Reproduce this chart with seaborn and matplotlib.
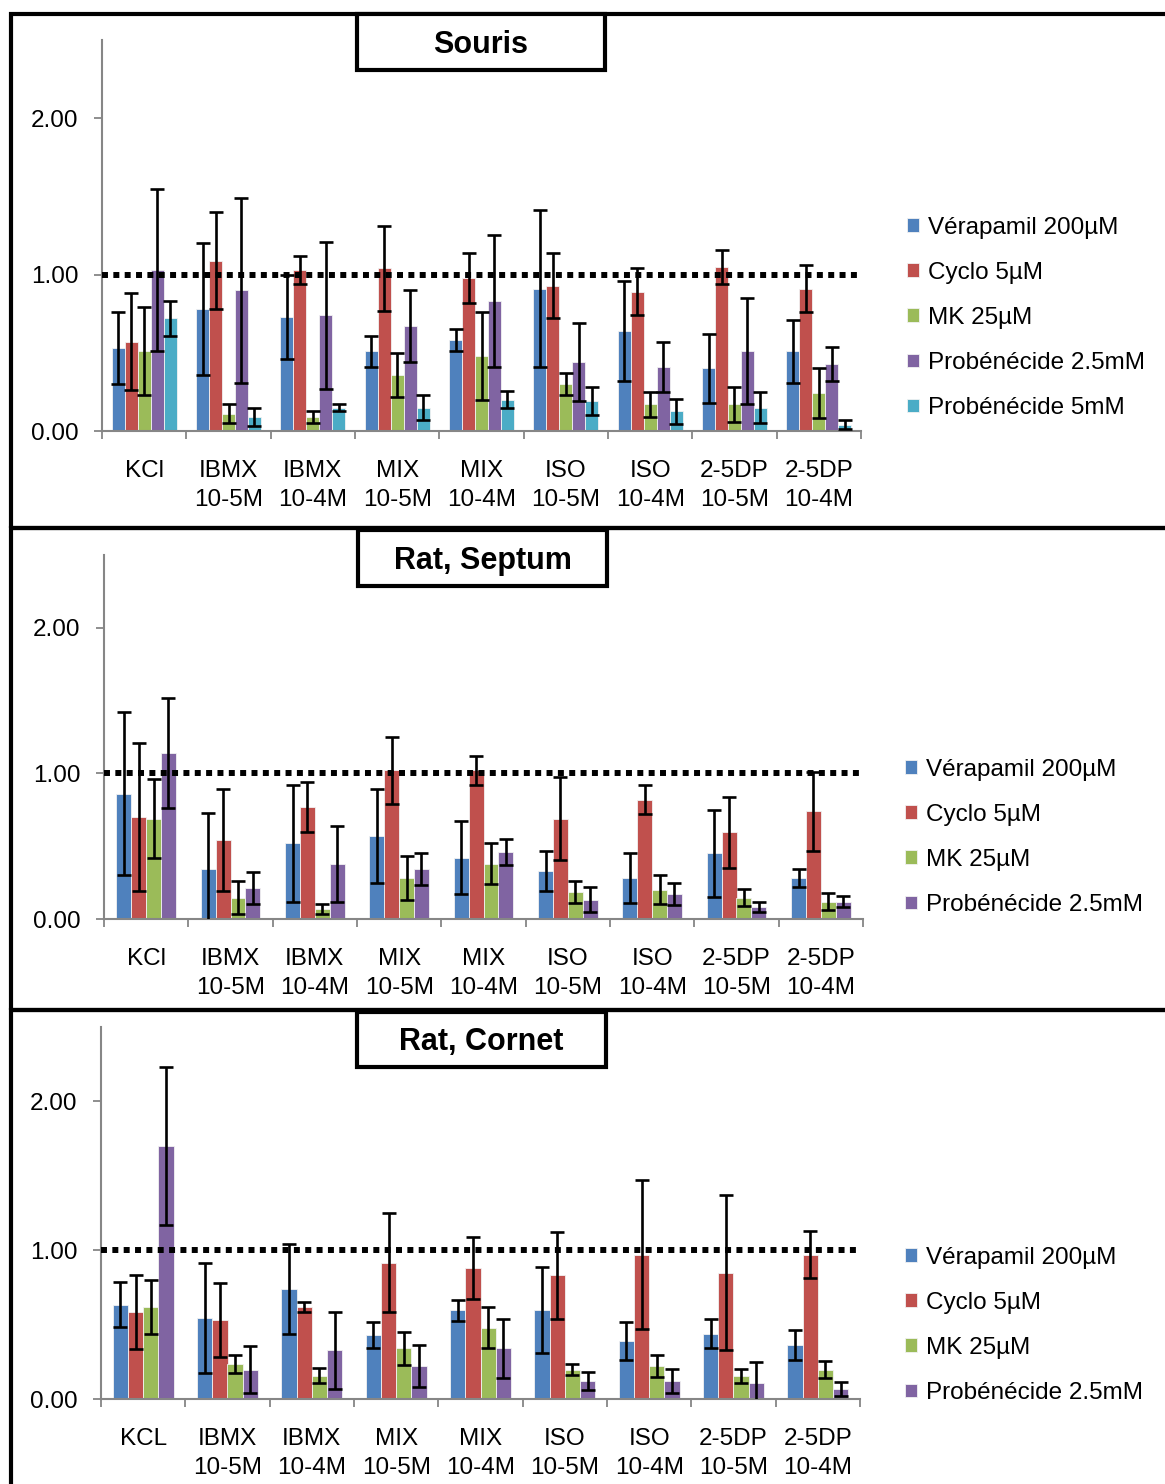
import numpy as np
import pandas as pd
import seaborn as sns
import matplotlib.pyplot as plt
from matplotlib.patches import Rectangle
from matplotlib.ticker import FixedLocator

sns.set_theme(style='ticks')
plt.rcParams['font.family'] = ['Liberation Sans', 'DejaVu Sans']
plt.rcParams['text.color'] = 'black'

# categories
cats = ['KCl', 'IBMX\n10-5M', 'IBMX\n10-4M', 'MIX\n10-5M', 'MIX\n10-4M',
        'ISO\n10-5M', 'ISO\n10-4M', '2-5DP\n10-5M', '2-5DP\n10-4M']
cats_cornet = ['KCL'] + cats[1:]

series = ['Vérapamil 200µM', 'Cyclo 5µM', 'MK 25µM',
          'Probénécide 2.5mM', 'Probénécide 5mM']
colors = ['#4F81BD', '#C0504D', '#9BBB59', '#8064A2', '#4BACC6']

# Souris
souris_vera = [0.53, 0.78, 0.73, 0.51, 0.58, 0.91, 0.64, 0.40, 0.51]
souris_vera_err = [0.23, 0.42, 0.27, 0.10, 0.07, 0.50, 0.32, 0.22, 0.20]
souris_cyclo = [0.57, 1.09, 1.03, 1.04, 0.98, 0.93, 0.89, 1.05, 0.91]
souris_cyclo_err = [0.31, 0.31, 0.09, 0.27, 0.16, 0.21, 0.15, 0.11, 0.15]
souris_mk = [0.51, 0.11, 0.09, 0.36, 0.48, 0.30, 0.17, 0.17, 0.24]
souris_mk_err = [0.28, 0.06, 0.04, 0.14, 0.28, 0.07, 0.08, 0.11, 0.16]
souris_prob25 = [1.03, 0.90, 0.74, 0.67, 0.83, 0.44, 0.41, 0.51, 0.43]
souris_prob25_err = [0.52, 0.59, 0.47, 0.23, 0.42, 0.25, 0.16, 0.34, 0.11]
souris_prob5 = [0.72, 0.09, 0.15, 0.15, 0.20, 0.19, 0.125, 0.15, 0.04]
souris_prob5_err = [0.11, 0.055, 0.02, 0.08, 0.056, 0.09, 0.08, 0.10, 0.03]

# Rat, Septum
septum_vera = [0.86, 0.345, 0.52, 0.57, 0.42, 0.33, 0.28, 0.45, 0.28]
septum_vera_err = [0.56, 0.38, 0.40, 0.32, 0.25, 0.14, 0.17, 0.30, 0.06]
septum_cyclo = [0.70, 0.545, 0.77, 1.02, 1.02, 0.69, 0.82, 0.595, 0.74]
septum_cyclo_err = [0.51, 0.35, 0.17, 0.23, 0.10, 0.285, 0.10, 0.245, 0.27]
septum_mk = [0.69, 0.147, 0.067, 0.28, 0.38, 0.186, 0.20, 0.147, 0.12]
septum_mk_err = [0.27, 0.115, 0.035, 0.15, 0.14, 0.074, 0.10, 0.06, 0.06]
septum_prob25 = [1.14, 0.21, 0.38, 0.345, 0.46, 0.133, 0.17, 0.08, 0.12]
septum_prob25_err = [0.38, 0.11, 0.26, 0.11, 0.09, 0.088, 0.075, 0.035, 0.035]

# Rat, Cornet
cornet_vera = [0.635, 0.546, 0.74, 0.43, 0.597, 0.60, 0.39, 0.44, 0.365]
cornet_vera_err = [0.15, 0.37, 0.30, 0.085, 0.07, 0.29, 0.125, 0.10, 0.10]
cornet_cyclo = [0.584, 0.53, 0.62, 0.917, 0.88, 0.83, 0.97, 0.85, 0.97]
cornet_cyclo_err = [0.25, 0.25, 0.035, 0.33, 0.21, 0.29, 0.50, 0.52, 0.16]
cornet_mk = [0.62, 0.235, 0.157, 0.34, 0.48, 0.197, 0.224, 0.157, 0.197]
cornet_mk_err = [0.18, 0.06, 0.05, 0.11, 0.14, 0.036, 0.074, 0.047, 0.058]
cornet_prob25 = [1.70, 0.197, 0.327, 0.224, 0.34, 0.12, 0.12, 0.107, 0.067]
cornet_prob25_err = [0.53, 0.16, 0.26, 0.14, 0.20, 0.06, 0.08, 0.14, 0.05]

W, H = 1165, 1484
FS = 17.5
fig = plt.figure(figsize=(W / 100, H / 100), dpi=100)


def px_rect(x0, y0, x1, y1):
    # pixel box (top-left origin) -> figure fraction [l, b, w, h]
    return [x0 / W, 1 - y1 / H, (x1 - x0) / W, (y1 - y0) / H]


def draw_panel(ax, labels, vals, errs, width, title, title_box, leg_xy):
    names = series[:len(vals)]
    df = pd.DataFrame({
        'cat': np.tile(labels, len(vals)),
        'serie': np.repeat(names, len(labels)),
        'val': np.concatenate(vals),
    })
    sns.barplot(data=df, x='cat', y='val', hue='serie', order=labels,
                hue_order=names, palette=colors[:len(vals)], errorbar=None,
                width=width, saturation=1, edgecolor='#f2f2f2', linewidth=0.6,
                ax=ax)
    for cont, err in zip(ax.containers, errs):
        xs = [p.get_x() + p.get_width() / 2 for p in cont.patches]
        ys = [p.get_height() for p in cont.patches]
        ax.errorbar(xs, ys, yerr=err, fmt='none', ecolor='black',
                    elinewidth=1.9, capsize=5, capthick=1.9, zorder=5)

    ax.axhline(1.0, color='black', lw=4.3, ls=(0, (1, 0.9)),
               dash_capstyle='butt', zorder=6)

    ax.set_xlim(-0.5, len(labels) - 0.5)
    ax.set_ylim(0, 2.5)
    ax.set_yticks([0, 1, 2])
    ax.set_yticklabels(['0.00', '1.00', '2.00'])
    ax.set_xlabel('')
    ax.set_ylabel('')
    ax.xaxis.set_minor_locator(FixedLocator(np.arange(-0.5, len(labels), 1)))
    ax.tick_params(axis='x', which='major', length=0, pad=21, labelsize=FS,
                   labelcolor='black')
    ax.tick_params(axis='x', which='minor', length=6, width=1.3,
                   color='#868686', direction='out')
    ax.tick_params(axis='y', length=6, width=1.3, color='#868686', pad=11,
                   labelsize=FS, labelcolor='black')
    for lbl in ax.get_xticklabels():
        lbl.set_linespacing(1.4)
    for s in ['top', 'right']:
        ax.spines[s].set_visible(False)
    for s in ['left', 'bottom']:
        ax.spines[s].set_color('#868686')
        ax.spines[s].set_linewidth(1.5)

    sns.move_legend(ax, 'center left', bbox_to_anchor=leg_xy,
                    bbox_transform=fig.transFigure, frameon=False, title=None,
                    fontsize=FS, handlelength=0.5, handleheight=0.5,
                    handletextpad=0.35, labelspacing=0.95, borderpad=0,
                    borderaxespad=0)

    # title box
    l, b, w, h = px_rect(*title_box)
    fig.patches.append(Rectangle((l, b), w, h, transform=fig.transFigure,
                                 facecolor='white', edgecolor='black', lw=3,
                                 zorder=10))
    fig.text(l + w / 2, b + h / 2 - 0.002, title, ha='center', va='center',
             fontsize=22, fontweight='bold', color='black', zorder=11)


# panel frames
for box in [(11, 14, 1175, 528), (11, 528, 1175, 1010), (11, 1010, 1175, 1495)]:
    l, b, w, h = px_rect(*box)
    fig.patches.append(Rectangle((l, b), w, h, transform=fig.transFigure,
                                 facecolor='none', edgecolor='black', lw=3,
                                 zorder=1))

ax1 = fig.add_axes(px_rect(102, 40, 861, 431))
draw_panel(ax1, cats,
           [souris_vera, souris_cyclo, souris_mk, souris_prob25, souris_prob5],
           [souris_vera_err, souris_cyclo_err, souris_mk_err,
            souris_prob25_err, souris_prob5_err],
           0.77, 'Souris', (357, 14, 605, 70), (907 / W, 1 - 318 / H))

ax2 = fig.add_axes(px_rect(104, 555, 863, 919))
draw_panel(ax2, cats,
           [septum_vera, septum_cyclo, septum_mk, septum_prob25],
           [septum_vera_err, septum_cyclo_err, septum_mk_err, septum_prob25_err],
           0.705, 'Rat, Septum', (358, 530, 607, 586),
           (905 / W, 1 - 837.5 / H))

ax3 = fig.add_axes(px_rect(101, 1027, 860, 1399))
draw_panel(ax3, cats_cornet,
           [cornet_vera, cornet_cyclo, cornet_mk, cornet_prob25],
           [cornet_vera_err, cornet_cyclo_err, cornet_mk_err, cornet_prob25_err],
           0.72, 'Rat, Cornet', (357, 1012, 606, 1067),
           (905 / W, 1 - 1325.5 / H))

fig.savefig('out.png', dpi=100)
